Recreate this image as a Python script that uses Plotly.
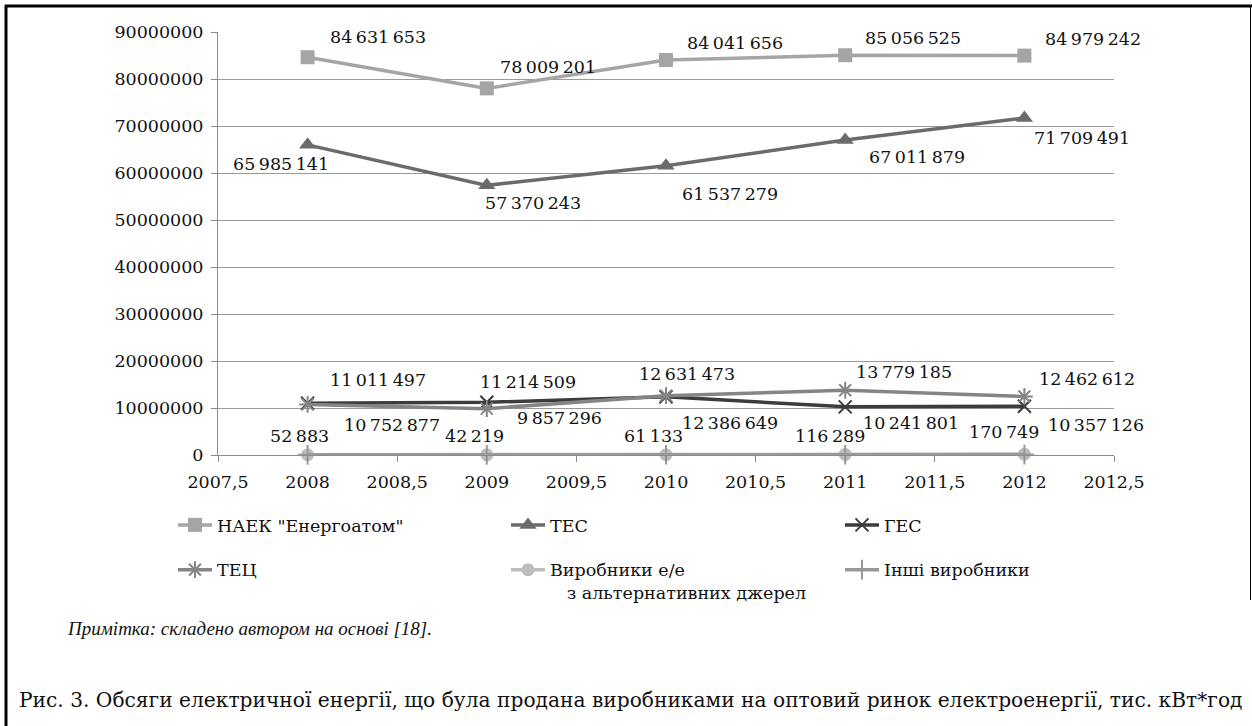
import plotly.graph_objects as go

# ---------------- data ----------------
years = [2008, 2009, 2010, 2011, 2012]
naek = [84631653, 78009201, 84041656, 85056525, 84979242]
tes = [65985141, 57370243, 61537279, 67011879, 71709491]
ges = [11011497, 11214509, 12386649, 10241801, 10357126]
tec = [10752877, 9857296, 12631473, 13779185, 12462612]
alt = [52883, 42219, 61133, 116289, 170749]
other = [30000, 25000, 45000, 60000, 80000]

series_names = ['НАЕК "Енергоатом"', 'ТЕС', 'ГЕС', 'ТЕЦ',
                'Виробники е/е<br>\u00a0\u00a0\u00a0з альтернативних джерел', 'Інші виробники']
y_ticks = [0, 10000000, 20000000, 30000000, 40000000, 50000000,
           60000000, 70000000, 80000000, 90000000]
x_ticks = [2007.5, 2008, 2008.5, 2009, 2009.5, 2010, 2010.5, 2011, 2011.5, 2012, 2012.5]
note_text = "Примітка: складено автором на основі [18]."
caption_text = ("Рис. 3. Обсяги електричної енергії, що була продана виробниками на оптовий "
                "ринок електроенергії, тис. кВт*год")

# ---------------- styles ----------------
W, H = 1252, 726
L, R, T, B = 218, 1114, 32, 455
FONT = "DejaVu Serif"
FS = 17.5

styles = [
    dict(color="#a5a5a5", symbol="square", size=14, lw=0, legend="legend"),
    dict(color="#6b6b6b", symbol="triangle-up", size=15, lw=0, legend="legend2"),
    dict(color="#3c3c3c", symbol="x-thin-open", size=13, lw=2, legend="legend3"),
    dict(color="#858585", symbol="asterisk-open", size=14, lw=2, legend="legend"),
    dict(color="#bdbdbd", symbol="circle", size=13, lw=0, legend="legend2"),
    dict(color="#999999", symbol="cross-thin-open", size=14, lw=2, legend="legend3"),
]

# label offsets (px, center relative to point; y down positive)
offsets = [
    [(70, -20), (61, -21), (69, -17), (68, -17), (69, -17)],
    [(-27, 19), (46, 18), (64, 28), (72, 17), (58, 20)],
    [(70, -23), (41, -20), (64, 26), (66, 16), (72, 19)],
    [(84, 21), (73, 9), (21, -22), (59, -18), (63, -17)],
    [(-8, -19), (-12, -19), (-13, -19), (-15, -18), (-20, -22)],
]

all_series = [naek, tes, ges, tec, alt, other]


def fmt(v):
    return f"{v:,}".replace(",", "\u2009")


def px_x(p):
    return (p - L) / (R - L)


def px_y(p):
    return (B - p) / (B - T)


fig = go.Figure()
for i, (vals, st) in enumerate(zip(all_series, styles)):
    fig.add_trace(go.Scatter(
        x=years, y=vals, name=series_names[i], mode="lines+markers",
        line=dict(color=st["color"], width=3.5),
        marker=dict(symbol=st["symbol"], size=st["size"], color=st["color"],
                    line=dict(color=st["color"], width=st["lw"])),
        cliponaxis=False, legend=st["legend"], legendgroup=str(i),
    ))

annotations = []
for si, offs in enumerate(offsets):
    for xi, (dx, dy) in enumerate(offs):
        annotations.append(dict(
            x=years[xi], y=all_series[si][xi], xref="x", yref="y",
            text=fmt(all_series[si][xi]), showarrow=False,
            xshift=dx, yshift=-dy, xanchor="center", yanchor="middle",
            font=dict(family=FONT, size=FS, color="#111111"),
        ))

annotations.append(dict(
    x=px_x(65), y=px_y(628), xref="paper", yref="paper", xanchor="left", yanchor="middle",
    text="<i>" + note_text + "</i>", showarrow=False,
    font=dict(family="Liberation Serif", size=19, color="#111111"),
))
annotations.append(dict(
    x=px_x(17), y=px_y(700), xref="paper", yref="paper", xanchor="left", yanchor="middle",
    text=caption_text, showarrow=False,
    font=dict(family=FONT, size=20.2, color="#111111"),
))

shapes = [
    dict(type="line", xref="paper", yref="paper", x0=px_x(6), x1=px_x(6), y0=px_y(5), y1=px_y(726),
         line=dict(color="#000000", width=3)),
    dict(type="line", xref="paper", yref="paper", x0=px_x(5), x1=px_x(1252), y0=px_y(6), y1=px_y(6),
         line=dict(color="#000000", width=3)),
    dict(type="line", xref="paper", yref="paper", x0=px_x(1250.5), x1=px_x(1250.5), y0=px_y(6), y1=px_y(600),
         line=dict(color="#000000", width=1)),
]

legend_common = dict(orientation="v", yanchor="top", xanchor="left", valign="top",
                     tracegroupgap=19, itemwidth=34, bgcolor="rgba(0,0,0,0)",
                     font=dict(family=FONT, size=FS, color="#111111"))

fig.update_layout(
    width=W, height=H,
    margin=dict(l=L, r=W - R, t=T, b=H - B, pad=0),
    paper_bgcolor="white", plot_bgcolor="white",
    separators=", ",
    font=dict(family=FONT, size=FS, color="#111111"),
    showlegend=True,
    legend=dict(x=px_x(173), y=px_y(507), **legend_common),
    legend2=dict(x=px_x(506), y=px_y(507), **legend_common),
    legend3=dict(x=px_x(840), y=px_y(507), **legend_common),
    annotations=annotations,
    shapes=shapes,
    xaxis=dict(range=[2007.5, 2012.5], tickvals=x_ticks, tickformat=".1~f", showgrid=False,
               showline=True, linecolor="#8c8c8c", linewidth=1,
               ticks="outside", ticklen=6, tickcolor="#8c8c8c",
               ticklabelstandoff=5, zeroline=False, fixedrange=True),
    yaxis=dict(range=[0, 90000000], tickvals=y_ticks, tickformat="d",
               showgrid=True, gridcolor="#9a9a9a", gridwidth=1,
               showline=True, linecolor="#8c8c8c", linewidth=1,
               ticks="outside", ticklen=6, tickcolor="#8c8c8c",
               ticklabelstandoff=4, zeroline=False, fixedrange=True),
)

fig.write_html("out.html", config={"displayModeBar": False},
               post_script="document.body.style.margin='0';")
